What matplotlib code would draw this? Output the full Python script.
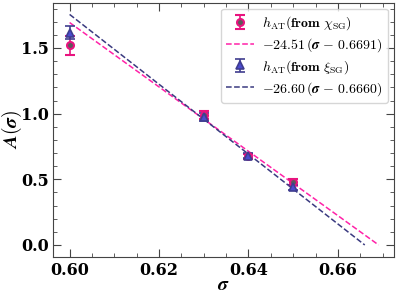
import numpy as np
import matplotlib
matplotlib.use('Agg')
import matplotlib.pyplot as plt
from matplotlib.ticker import MultipleLocator, FuncFormatter

plt.rcParams['mathtext.fontset'] = 'cm'
plt.rcParams['font.family'] = 'serif'
plt.rcParams['font.serif'] = ['DejaVu Serif']

sigma = [0.60, 0.63, 0.64, 0.65]
a_chi = [1.52, 0.99, 0.675, 0.48]
err_chi = [0.075, 0.03, 0.02, 0.02]
a_xi = [1.615, 0.975, 0.68, 0.44]
err_xi = [0.05, 0.03, 0.02, 0.02]

slope_chi, s0_chi = -24.51, 0.6691
slope_xi, s0_xi = -26.60, 0.6660

fig = plt.figure(figsize=(3.99, 2.95), dpi=100)
ax = fig.add_axes([0.133, 0.13, 0.854, 0.86])

pink = '#e8147f'
blue = '#3f3d8f'

h1 = ax.errorbar(sigma, a_chi, yerr=err_chi, fmt='o', ms=5, mfc='#5a5a5a', mec=pink, mew=1.5,
                 ecolor=pink, capsize=3.5, elinewidth=1.2, capthick=1.2, zorder=3)
xs = np.linspace(0.60, s0_chi, 50)
h2, = ax.plot(xs, slope_chi * (xs - s0_chi), '--', color='#ff22a8', lw=1.1)

h3 = ax.errorbar(sigma, a_xi, yerr=err_xi, fmt='^', ms=5.5, mfc='#4b4bd0', mec=blue, mew=1.2,
                 ecolor=blue, capsize=3.5, elinewidth=1.2, capthick=1.2, zorder=3)
xs = np.linspace(0.60, s0_xi, 50)
h4, = ax.plot(xs, slope_xi * (xs - s0_xi), '--', color='#3a3a80', lw=1.1)

labels = [r'$h_{\rm AT}\mathbf{(from}\ \chi_{\rm SG}\mathbf{)}$',
          r'$\mathbf{-24.51}\,(\boldsymbol{\sigma}\ \mathbf{-\ 0.6691})$',
          r'$h_{\rm AT}\mathbf{(from}\ \xi_{\rm SG}\mathbf{)}$',
          r'$\mathbf{-26.60}\,(\boldsymbol{\sigma}\ \mathbf{-\ 0.6660})$']

ax.set_xlim(0.5963, 0.6725)
ax.set_ylim(-0.089, 1.843)
ax.xaxis.set_major_locator(MultipleLocator(0.02))
ax.xaxis.set_minor_locator(MultipleLocator(0.005))
ax.yaxis.set_major_locator(MultipleLocator(0.5))
ax.yaxis.set_minor_locator(MultipleLocator(0.1))
ax.xaxis.set_major_formatter(FuncFormatter(lambda v, p: '%.2f' % v))
ax.yaxis.set_major_formatter(FuncFormatter(lambda v, p: '%.1f' % v))
ax.tick_params(which='both', direction='in', top=True, right=True, labelsize=11.5, color='#444444')
ax.tick_params(axis='y', pad=3)
ax.tick_params(which='major', length=6)
ax.tick_params(which='minor', length=3)
for lab in ax.get_xticklabels() + ax.get_yticklabels():
    lab.set_fontweight('bold')
for s in ax.spines.values():
    s.set_color('#444444')

ax.set_xlabel(r'$\boldsymbol{\sigma}$', fontsize=14, labelpad=-2)
ax.set_ylabel(r'$\boldsymbol{A(\sigma)}$', fontsize=14)
ax.yaxis.set_label_coords(-0.085, 0.5)

ax.legend([h1, h2, h3, h4], labels, loc='upper right', fontsize=10, handlelength=2.0,
          borderaxespad=0.4, labelspacing=0.3, handletextpad=0.6, framealpha=0.8)

fig.savefig('out.png', dpi=100)
